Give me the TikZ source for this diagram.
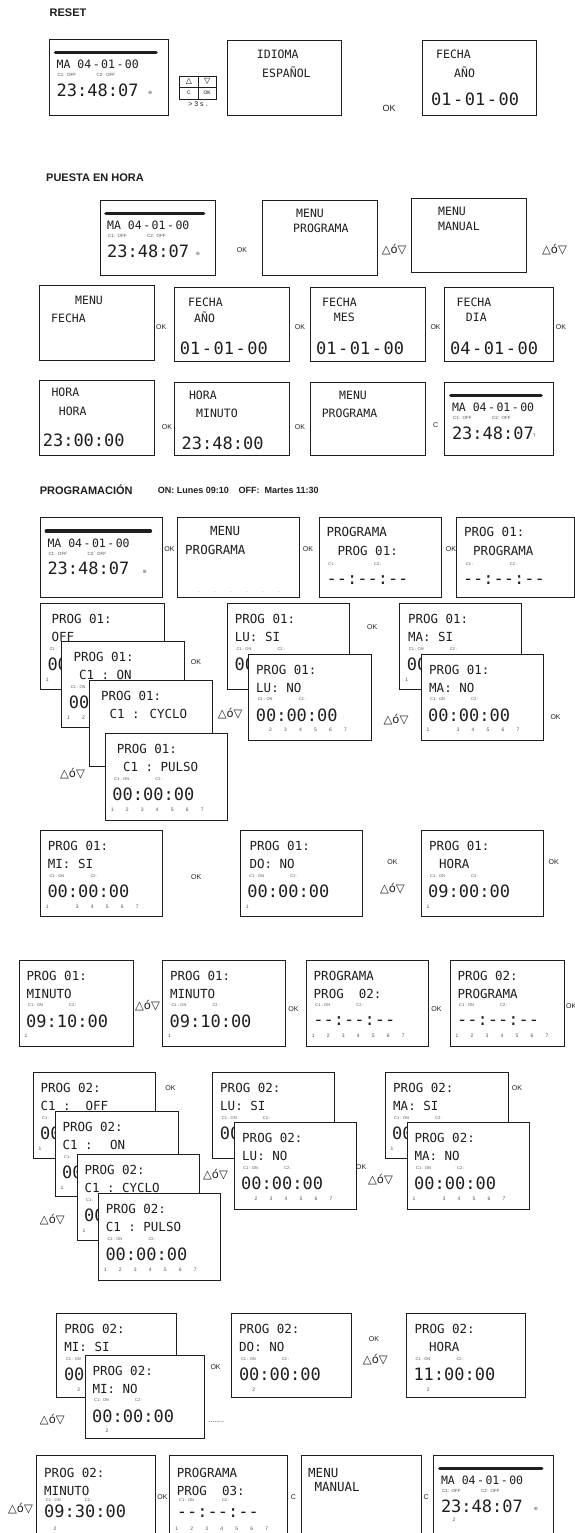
\documentclass[tikz,border=0pt]{standalone}
\usepackage{fontspec}
\setmainfont{Liberation Sans}
\newfontfamily\lcdfont{DejaVu Sans Mono}
\newfontfamily\symfont{DejaVu Sans}
\usetikzlibrary{calc}
\definecolor{ink}{HTML}{1E1E1E}
\definecolor{gr}{HTML}{505050}
\tikzset{
 scr/.style={draw=ink, fill=white, line width=0.8pt, anchor=north west, inner sep=0pt, outer sep=0pt},
 la/.style={font=\lcdfont\fontsize{11.5}{12}\selectfont, text=ink, inner sep=0pt, anchor=west},
 lh/.style={font=\lcdfont\fontsize{12.5}{13}\selectfont, text=ink, inner sep=0pt, anchor=west},
 lb/.style={font=\lcdfont\fontsize{17}{18}\selectfont, text=ink, inner sep=0pt, anchor=west},
 tl/.style={font=\fontsize{4}{5}\selectfont, text=gr, inner sep=0pt, anchor=west},
 td/.style={font=\fontsize{5}{6}\selectfont, text=gr, inner sep=0pt},
 lbl/.style={font=\fontsize{7}{8}\selectfont, text=ink, inner sep=0pt},
 sym/.style={font=\symfont\fontsize{11.5}{12}\selectfont, text=ink, inner sep=0pt},
 ttl/.style={font=\bfseries\fontsize{11}{12}\selectfont, text=ink, inner sep=0pt, anchor=west},
 ttls/.style={font=\bfseries\fontsize{9}{10}\selectfont, text=ink, inner sep=0pt, anchor=west},
 bar/.style={line width=3.6pt, line cap=round, draw=ink},
 btn/.style={draw=ink, line width=0.6pt, anchor=north west, inner sep=0pt, outer sep=0pt, minimum width=18.3pt, minimum height=11.5pt},
}
\newcommand\scrn[6]{%
 \node[scr,minimum width=#4pt,minimum height=#5pt] (#1) at (#2,#3) {};%
 \begin{scope}[shift={(#1.north west)}]#6\end{scope}}
\newcommand\tx[4]{\node[#1] at (#2,#3) {#4};}
\newcommand\hd[4]{\node[lh] at (#1,15.5) {#2};\node[lh] at (#3,33.5) {#4};}
\newcommand\con{\node[tl] at (9,45.5) {C1 : ON};\node[tl] at (50,45.5) {C2 :};}
\newcommand\cone{\node[tl] at (9,45.5) {C1 :};}
\newcommand\tm[1]{\node[lb] at (7,61) {#1};}
\newcommand\dys[1]{\foreach \dd in {#1} {\node[td] at ({7+(\dd-1)*15},76) {\dd};}}
\newcommand\dmy[3]{#1\kern1.5pt-\kern1.5pt#2\kern1.5pt-\kern1.5pt#3}
\newcommand\dsh{-\kern0pt-:-\kern0pt-:-\kern0pt-}
\newcommand\clock[2]{%
 \draw[bar] (6,13.5) -- ({#1-12},13.5);
 \node[la] at (7,25.5) {MA 04\kern1.5pt-\kern1.5pt01\kern1.5pt-\kern1.5pt00};
 \node[tl,font=\fontsize{4.5}{5}\selectfont] at (8,36) {C1:\ \ OFF};
 \node[tl,font=\fontsize{4.5}{5}\selectfont] at (47,36) {C2:\ \ OFF};
 \node[lb] at (7,51) {23:48:07};
 \node[tl,font=\symfont\fontsize{5}{6}\selectfont] at ({#1-20},54) {#2};}
\begin{document}
\begin{tikzpicture}[x=1pt,y=-1pt]
\fill[white] (0,0) rectangle (575,1533);
\useasboundingbox (0,0) rectangle (575,1533);
% ---------- RESET
\node[ttl] (t1) at (49.5,12.3) {RESET};
\scrn{r1}{49.5}{39}{118.5}{76.7}{\clock{118.5}{⊛}}
\node[btn,font=\symfont\fontsize{8}{9}\selectfont] (bu) at (179.7,76) {△};
\node[btn,font=\symfont\fontsize{8}{9}\selectfont] (bd) at (198,76) {▽};
\node[btn,font=\fontsize{5}{6}\selectfont] (bc) at (179.7,87.5) {C};
\node[btn,font=\fontsize{5}{6}\selectfont] (bo) at (198,87.5) {OK};
\node[lbl] (g3) at (198,104.5) {> 3 s .};
\scrn{r2}{227}{40.7}{114}{74.3}{\tx{la}{29.7}{13.3}{IDIOMA}\tx{la}{35}{32}{ESPAÑOL}}
\node[lbl,font=\fontsize{9}{10}\selectfont] (rok) at (389,108.3) {OK};
\scrn{r3}{422}{40.7}{114.5}{74.3}{\tx{la}{14}{13.3}{FECHA}\tx{la}{32}{32}{AÑO}\tx{lb}{9}{58.3}{\dmy{01}{01}{00}}}
% ---------- PUESTA EN HORA
\node[ttl] (t2) at (46,177.3) {PUESTA EN HORA};
\scrn{a1}{100}{200}{115.6}{75}{\clock{115.6}{⊛}}
\node[lbl] (a1ok) at (242,250) {OK};
\scrn{a2}{262}{200.7}{115.7}{74.3}{\tx{la}{34}{12.6}{MENU}\tx{la}{31}{27.6}{PROGRAMA}}
\node[sym] (a2s) at (394.2,250) {△ó▽};
\scrn{a3}{411.4}{198.3}{114.6}{74.4}{\tx{la}{26.6}{12.7}{MENU}\tx{la}{26.6}{28.4}{MANUAL}}
\node[sym] (a3s) at (554.5,250) {△ó▽};
\scrn{b1}{39.6}{285}{114.4}{75}{\tx{la}{35.4}{15.7}{MENU}\tx{la}{11.4}{33.3}{FECHA}}
\node[lbl] (b1ok) at (161.3,326.7) {OK};
\scrn{b2}{174.5}{287.3}{115.2}{74.4}{\tx{la}{13.5}{15.4}{FECHA}\tx{la}{19.5}{30.4}{AÑO}\tx{lb}{5.2}{61}{\dmy{01}{01}{00}}}
\node[lbl] (b2ok) at (300,326.7) {OK};
\scrn{b3}{310}{287.3}{115.4}{74.4}{\tx{la}{12}{15.4}{FECHA}\tx{la}{23.7}{30.4}{MES}\tx{lb}{6}{61}{\dmy{01}{01}{00}}}
\node[lbl] (b3ok) at (435.6,326.7) {OK};
\scrn{b4}{444.8}{287.3}{108.2}{74.4}{\tx{la}{11.7}{15.4}{FECHA}\tx{la}{20.9}{30.4}{DIA}\tx{lb}{5.2}{61}{\dmy{04}{01}{00}}}
\node[lbl] (b4ok) at (561,326.7) {OK};
\scrn{c1}{39.6}{380}{114.4}{75}{\tx{la}{11.7}{12.7}{HORA}\tx{la}{19.1}{31.7}{HORA}\tx{lb}{3}{60}{23:00:00}}
\node[lbl] (c1ok) at (166.9,426.7) {OK};
\scrn{c2}{174.5}{382}{115.2}{73}{\tx{la}{14.3}{13}{HORA}\tx{la}{21.5}{31.3}{MINUTO}\tx{lb}{7}{61.3}{23:48:00}}
\node[lbl] (c2ok) at (300,426.7) {OK};
\scrn{c3}{310}{382}{115.4}{73}{\tx{la}{29}{13}{MENU}\tx{la}{11.6}{31.3}{PROGRAMA}}
\node[lbl] (c3c) at (435.6,425) {C};
\scrn{c4}{444.8}{382}{108.2}{73}{\clock{108.2}{?}}
% ---------- PROGRAMACION
\node[ttl] (t3) at (39.6,490) {PROGRAMACIÓN};
\node[ttls] (t3b) at (157.7,490) {ON: Lunes 09:10};
\node[ttls] (t3c) at (238.4,490) {OFF:\ \ Martes 11:30};
\scrn{d1}{40.3}{517.5}{122}{80}{\clock{122}{⊛}}
\node[lbl] (d1ok) at (169.4,549) {OK};
\scrn{d2}{177}{517.5}{122}{80}{\tx{lh}{32.8}{14}{MENU}\tx{lh}{8}{32.5}{PROGRAMA}\foreach \dd in {0,...,5}{\node[td] at ({22+\dd*16},75) {.};}}
\node[lbl] (d2ok) at (308,549) {OK};
\scrn{d3}{319}{517.5}{122}{80}{\tx{lh}{7.4}{14}{PROGRAMA}\tx{lh}{18.4}{33}{PROG 01:}\tx{tl}{9.2}{46.3}{C1 :}\tx{tl}{55}{46.3}{C2 :}\tx{lb}{7.4}{63}{\dsh}}
\node[lbl] (d3ok) at (451,549) {OK};
\scrn{d4}{456.5}{517.5}{118}{80}{\tx{lh}{7.4}{14}{PROG 01:}\tx{lh}{16.5}{33}{PROGRAMA}\tx{tl}{9.2}{46.3}{C1 :}\tx{tl}{53.2}{46.3}{C2 :}\tx{lb}{6.3}{63}{\dsh}}
% group 1
\scrn{p1}{40.3}{603.3}{123.6}{86}{\hd{11}{PROG 01:}{11}{OFF}\cone\tm{00}\dys{1}}
\scrn{p2}{61.6}{641.7}{122.8}{86}{\hd{11.7}{PROG 01:}{17.2}{C1 :\ ON}\node[tl] at (9,45.5) {C1 : ON};\tm{00}\dys{1,2}}
\scrn{p3}{89.8}{680.7}{122.9}{86}{\hd{11}{PROG 01:}{19.5}{C1 : CYCLO}}
\scrn{p4}{105.2}{733.3}{122}{87.4}{\hd{11.4}{PROG 01:}{17.6}{C1 :\ PULSO}\con\tm{00:00:00}\dys{1,2,3,4,5,6,7}}
\node[lbl] (p2ok) at (196,661.7) {OK};
\node[sym] (p3s) at (230.2,713.3) {△ó▽};
\node[sym] (p4s) at (72.5,773.3) {△ó▽};
\scrn{q1}{227.4}{603.3}{121.6}{86}{\hd{7.3}{PROG 01:}{7.3}{LU: SI}\con\tm{00}}
\scrn{q2}{248.6}{654}{122.5}{86}{\hd{7.4}{PROG 01:}{7.4}{LU: NO}\con\tm{00:00:00}\dys{2,3,4,5,6,7}}
\node[lbl] (q1ok) at (372.2,626.7) {OK};
\node[sym] (q2s) at (396,720) {△ó▽};
\scrn{s1}{399.7}{603.3}{122.1}{86}{\hd{8.1}{PROG 01:}{8.1}{MA: SI}\con\tm{00}\dys{1}}
\scrn{s2}{421}{654}{122.5}{86}{\hd{8}{PROG 01:}{8}{MA: NO}\con\tm{00:00:00}\dys{1,3,4,5,6,7}}
\node[lbl] (s2ok) at (555.6,717.3) {OK};
% row 7
\scrn{u1}{40.3}{830.7}{122.1}{86}{\hd{7.4}{PROG 01:}{7.4}{MI: SI}\con\tm{00:00:00}\dys{1,3,4,5,6,7}}
\node[lbl] (u1ok) at (196.2,876.7) {OK};
\scrn{u2}{240.2}{830.7}{122.1}{86}{\hd{9.2}{PROG 01:}{9.2}{DO: NO}\con\tm{00:00:00}\dys{1}}
\node[lbl] (u2ok) at (392.4,861.7) {OK};
\node[sym] (u2s) at (392.4,888.3) {△ó▽};
\scrn{u3}{421}{830.7}{122.5}{86}{\hd{8}{PROG 01:}{18}{HORA}\con\tm{09:00:00}\dys{1}}
\node[lbl] (u3ok) at (553.7,861.7) {OK};
% row 8
\scrn{v1}{19}{960}{114.8}{86}{\hd{7.4}{PROG 01:}{7.4}{MINUTO}\con\tm{09:10:00}\dys{1}}
\node[sym] (v1s) at (147.5,1006) {△ó▽};
\scrn{v2}{162.4}{960}{122.6}{86}{\hd{7.4}{PROG 01:}{7.4}{MINUTO}\con\tm{09:10:00}\dys{1}}
\node[lbl] (v2ok) at (293.4,1009.3) {OK};
\scrn{v3}{306.2}{960}{122.1}{86}{\hd{7.3}{PROGRAMA}{7.3}{PROG\ \ 02:}\con\tm{\dsh}\dys{1,2,3,4,5,6,7}}
\node[lbl] (v3ok) at (436.4,1009.3) {OK};
\scrn{v4}{450}{960}{114.7}{86}{\hd{7.3}{PROG 02:}{7.3}{PROGRAMA}\con\tm{\dsh}\dys{1,2,3,4,5,6,7}}
\node[lbl,anchor=west] (v4ok) at (566,1006) {OK};
% group 2
\scrn{w1}{33}{1072.3}{122.1}{86}{\hd{7.3}{PROG 02:}{7.3}{C1 :\ \ OFF}\cone\tm{00}\dys{1}}
\scrn{w2}{55}{1111.7}{122.9}{85}{\hd{7.3}{PROG 02:}{7.3}{C1 : \ ON}\cone\tm{00}\dys{1}}
\scrn{w3}{77}{1154.3}{122}{86}{\hd{7.3}{PROG 02:}{7.3}{C1 :\ CYCLO}\cone\tm{00}\dys{1}}
\scrn{w4}{98.3}{1193.3}{121.7}{86.7}{\hd{7.3}{PROG 02:}{7.3}{C1 :\ PULSO}\con\tm{00:00:00}\dys{1,2,3,4,5,6,7}}
\node[lbl] (w1ok) at (170.5,1087.7) {OK};
\node[sym] (w3s) at (215.5,1175) {△ó▽};
\node[sym] (w4s) at (52.3,1219.3) {△ó▽};
\scrn{x1}{212.7}{1072.3}{122.1}{86}{\hd{7.3}{PROG 02:}{7.3}{LU: SI}\con\tm{00}}
\scrn{x2}{234}{1122.7}{122.4}{86.6}{\hd{8}{PROG 02:}{8}{LU: NO}\con\tm{00:00:00}\dys{2,3,4,5,6,7}}
\node[lbl] (x2ok) at (361.2,1166.7) {OK};
\node[sym] (x2s) at (380.5,1180) {△ó▽};
\scrn{y1}{385}{1072.3}{122.9}{86}{\hd{8}{PROG 02:}{8}{MA: SI}\con\tm{00}\dys{1}}
\scrn{y2}{407}{1122.7}{122.2}{86.6}{\hd{7.4}{PROG 02:}{7.4}{MA: NO}\con\tm{00:00:00}\dys{1,3,4,5,6,7}}
\node[lbl] (y1ok) at (517,1087.7) {OK};
% row 10
\scrn{z1}{56.8}{1313.3}{120}{84}{\hd{7.4}{PROG 02:}{7.4}{MI: SI}\node[tl] at (9,45.5) {C1 : ON};\tm{00}\dys{2}}
\scrn{z2}{85}{1355}{119.6}{83.3}{\hd{7.4}{PROG 02:}{7.4}{MI: NO}\con\tm{00:00:00}\dys{2}}
\node[lbl,anchor=west] (z2dots) at (208.3,1421.7) {........};
\node[lbl] (z2ok) at (215.6,1366.7) {OK};
\node[sym] (z2s) at (52.3,1420) {△ó▽};
\scrn{z3}{231.8}{1313.3}{119.5}{84}{\hd{7.2}{PROG 02:}{7.2}{DO: NO}\con\tm{00:00:00}\dys{2}}
\node[lbl] (z3ok) at (374,1339.3) {OK};
\node[sym] (z3s) at (375.3,1360) {△ó▽};
\scrn{z4}{406.3}{1313.3}{119.2}{84}{\hd{8}{PROG 02:}{22.7}{HORA}\con\tm{11:00:00}\dys{2}}
% row 11
\node[sym] (e0s) at (20.5,1508.3) {△ó▽};
\scrn{e1}{36.7}{1455}{118.4}{90}{\tx{lh}{7.3}{18.3}{PROG 02:}\tx{lh}{7.3}{36}{MINUTO}\tx{tl}{9}{45}{C1 : ON}\tx{tl}{48}{45}{C2 :}\tx{lb}{7.3}{56}{09:30:00}\node[td] at (18.3,73.3) {2};}
\node[lbl] (e1ok) at (162.4,1496.7) {OK};
\scrn{e2}{169.4}{1455}{117.7}{90}{\tx{lh}{7.3}{18.3}{PROGRAMA}\tx{lh}{7.3}{36}{PROG\ \ 03:}\tx{tl}{9.6}{45}{C1 : ON}\tx{tl}{52.5}{45}{C2 :}\tx{lb}{7.3}{58.3}{\dsh}\foreach \dd in {1,...,7}{\node[td] at ({7.3+(\dd-1)*15},73.3) {\dd};}}
\node[lbl] (e2c) at (293.4,1496.7) {C};
\scrn{e3}{301.4}{1455}{119.6}{90}{\tx{lh}{6.6}{18.3}{MENU}\tx{lh}{12.9}{31.7}{MANUAL}}
\node[lbl] (e3c) at (426.1,1496.7) {C};
\scrn{e4}{433.8}{1455}{119.9}{90}{\clock{119.9}{⊛}\node[td] at (20.2,64.3) {2};}
\end{tikzpicture}
\end{document}
